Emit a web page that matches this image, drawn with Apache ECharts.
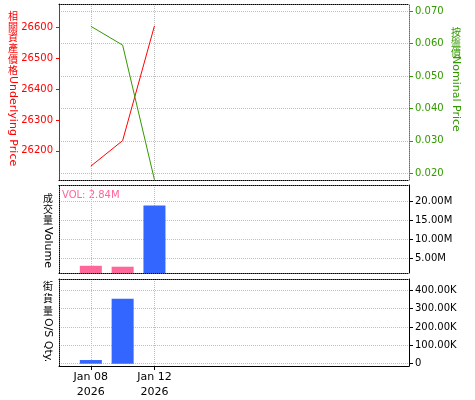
<!DOCTYPE html>
<html>
<head>
<meta charset="utf-8">
<script src="https://cdn.jsdelivr.net/npm/echarts@6/dist/echarts.min.js"></script>
<style>html,body{margin:0;padding:0;background:#fff}#c{width:475px;height:400px}</style>
</head>
<body>
<div id="c"></div>
<script>
// ---- data ----
const categories = ['', 'Jan 08\n2026', 'Jan 09\n2026', 'Jan 12\n2026', '', '', '', '', '', '', '', ''];
const dataStart = 1;
const underlying = [26150, 26233, 26606];
const nominal = [0.0653, 0.0595, 0.018];
const volume = [3.08e6, 2.84e6, 18.87e6];
const volDirection = ['down', 'down', 'up'];
const osQty = [20e3, 354e3, null];
const underlyingTicks = [26200, 26300, 26400, 26500, 26600];
const nominalTicks = [0.02, 0.03, 0.04, 0.05, 0.06, 0.07];
const volumeTicks = [5e6, 10e6, 15e6, 20e6];
const qtyTicks = [0, 100e3, 200e3, 300e3, 400e3];
const labelIdx = [1, 3];

function pad(arr) {
  const out = categories.map(() => null);
  arr.forEach((v, i) => { out[dataStart + i] = v; });
  return out;
}
function fmtBig(v) {
  if (v === 0) return '0';
  if (Math.abs(v) >= 1e6) return (v / 1e6).toFixed(2) + 'M';
  return (v / 1e3).toFixed(2) + 'K';
}

const RED = '#ff0000', GREEN = '#339900', BLUE = '#3366ff', PINK = '#ff6699';
const FONT = 'DejaVu Sans';
const CJK = 'Noto Sans CJK TC';
const dot = [1, 1];
const gridColor = '#c0c0c0';
const showIdx = (i) => labelIdx.indexOf(i) >= 0;

function xAx(grid, pos, opts) {
  return Object.assign({
    type: 'category', gridIndex: grid, position: pos, data: categories, boundaryGap: false,
    axisLine: { show: true, onZero: false, lineStyle: { color: '#000', type: dot, width: 1 } },
    axisTick: { show: false }, axisLabel: { show: false }, splitLine: { show: false }
  }, opts || {});
}
const vSplit = { show: true, interval: (i) => showIdx(i), lineStyle: { color: gridColor, type: dot } };

// vertical axis title: upright CJK chars, then rotated latin text
function vTitle(cjk, latin, x, y0, step, latinY, color) {
  const els = [];
  Array.from(cjk).forEach((ch, i) => {
    els.push({ type: 'text', x: x, y: y0 + i * step, style: { text: ch, fill: color, fontFamily: CJK, fontSize: 10, align: 'center', verticalAlign: 'top' } });
  });
  els.push({ type: 'text', x: x, y: latinY, rotation: -Math.PI / 2, style: { text: latin, fill: color, fontFamily: FONT, fontSize: 11, align: 'left', verticalAlign: 'middle' } });
  return els;
}

const chart = echarts.init(document.getElementById('c'), null, { renderer: 'canvas' });
const option = {
  animation: false,
  grid: [
    { left: 59, right: 66, top: 4, height: 176 },
    { left: 59, right: 66, top: 185, height: 88 },
    { left: 59, right: 66, top: 279, height: 87 }
  ],
  xAxis: [
    xAx(0, 'bottom', { splitLine: vSplit }),
    xAx(0, 'top'),
    xAx(1, 'bottom', { splitLine: vSplit }),
    xAx(1, 'top'),
    xAx(2, 'bottom', {
      splitLine: vSplit,
      axisLine: { show: true, onZero: false, lineStyle: { color: '#000', width: 1 } },
      axisTick: { show: true, interval: (i) => showIdx(i), length: 4, lineStyle: { color: '#000' } },
      axisLabel: { show: true, interval: (i) => showIdx(i), color: '#000', fontFamily: FONT, fontSize: 11, lineHeight: 15, margin: 4 }
    }),
    xAx(2, 'top')
  ],
  yAxis: [
    { type: 'value', gridIndex: 0, position: 'left', min: 26105, max: 26677,
      axisLine: { show: true, onZero: false, lineStyle: { color: RED, width: 1 } },
      axisTick: { show: true, length: 3, customValues: underlyingTicks, lineStyle: { color: RED } },
      axisLabel: { color: RED, fontFamily: FONT, fontSize: 10, margin: 6, customValues: underlyingTicks, formatter: (v) => String(v) },
      splitLine: { show: false } },
    { type: 'value', gridIndex: 0, position: 'right', min: 0.01794, max: 0.07216,
      axisLine: { show: true, onZero: false, lineStyle: { color: GREEN, width: 1, type: dot } },
      axisTick: { show: true, length: 4, customValues: nominalTicks, lineStyle: { color: GREEN } },
      axisLabel: { color: GREEN, fontFamily: FONT, fontSize: 10, margin: 6, customValues: nominalTicks, formatter: (v) => v.toFixed(3) },
      splitLine: { show: true, lineStyle: { color: gridColor, type: dot } } },
    { type: 'value', gridIndex: 1, position: 'left', min: 0, max: 1,
      axisLine: { show: true, onZero: false, lineStyle: { color: '#000', type: dot } },
      axisTick: { show: false }, axisLabel: { show: false }, splitLine: { show: false } },
    { type: 'value', gridIndex: 1, position: 'right', min: 1.2e6, max: 24.2e6,
      axisLine: { show: true, onZero: false, lineStyle: { color: '#000', width: 1 } },
      axisTick: { show: true, length: 4, customValues: volumeTicks, lineStyle: { color: '#000' } },
      axisLabel: { color: '#000', fontFamily: FONT, fontSize: 10, margin: 6, customValues: volumeTicks, formatter: fmtBig },
      splitLine: { show: true, lineStyle: { color: gridColor, type: dot } } },
    { type: 'value', gridIndex: 2, position: 'left', min: 0, max: 1,
      axisLine: { show: true, onZero: false, lineStyle: { color: '#000', type: dot } },
      axisTick: { show: false }, axisLabel: { show: false }, splitLine: { show: false } },
    { type: 'value', gridIndex: 2, position: 'right', min: -12.5e3, max: 461.6e3,
      axisLine: { show: true, onZero: false, lineStyle: { color: '#000', width: 1 } },
      axisTick: { show: true, length: 4, customValues: qtyTicks, lineStyle: { color: '#000' } },
      axisLabel: { color: '#000', fontFamily: FONT, fontSize: 10, margin: 6, customValues: qtyTicks, formatter: fmtBig },
      splitLine: { show: true, lineStyle: { color: gridColor, type: dot } } }
  ],
  series: [
    { type: 'line', xAxisIndex: 0, yAxisIndex: 0, data: pad(underlying), showSymbol: false, symbol: 'none',
      lineStyle: { color: RED, width: 1 }, itemStyle: { color: RED } },
    { type: 'line', xAxisIndex: 0, yAxisIndex: 1, data: pad(nominal), showSymbol: false, symbol: 'none',
      lineStyle: { color: GREEN, width: 1 }, itemStyle: { color: GREEN } },
    { type: 'bar', xAxisIndex: 2, yAxisIndex: 3, data: pad(volume), barWidth: 22,
      itemStyle: { color: (p) => volDirection[p.dataIndex - dataStart] === 'up' ? BLUE : PINK } },
    { type: 'bar', xAxisIndex: 4, yAxisIndex: 5, data: pad(osQty), barWidth: 22, itemStyle: { color: BLUE } }
  ],
  graphic: [].concat(
    vTitle('相關資產價格', 'Underlying Price', 13, 11, 10.8, 76, RED),
    vTitle('按盤價', 'Nominal Price', 456, 27, 10, 56, GREEN),
    vTitle('成交量', 'Volume', 48, 193, 11, 227, '#000'),
    vTitle('街貨量', 'O/S Qty.', 48, 281, 12.5, 318, '#000'),
    [{ type: 'text', x: 62, y: 195, style: { text: 'VOL: 2.84M', fill: PINK, fontFamily: FONT, fontSize: 10, align: 'left', verticalAlign: 'middle' } }]
  )
};
chart.setOption(option);
</script>
</body>
</html>
